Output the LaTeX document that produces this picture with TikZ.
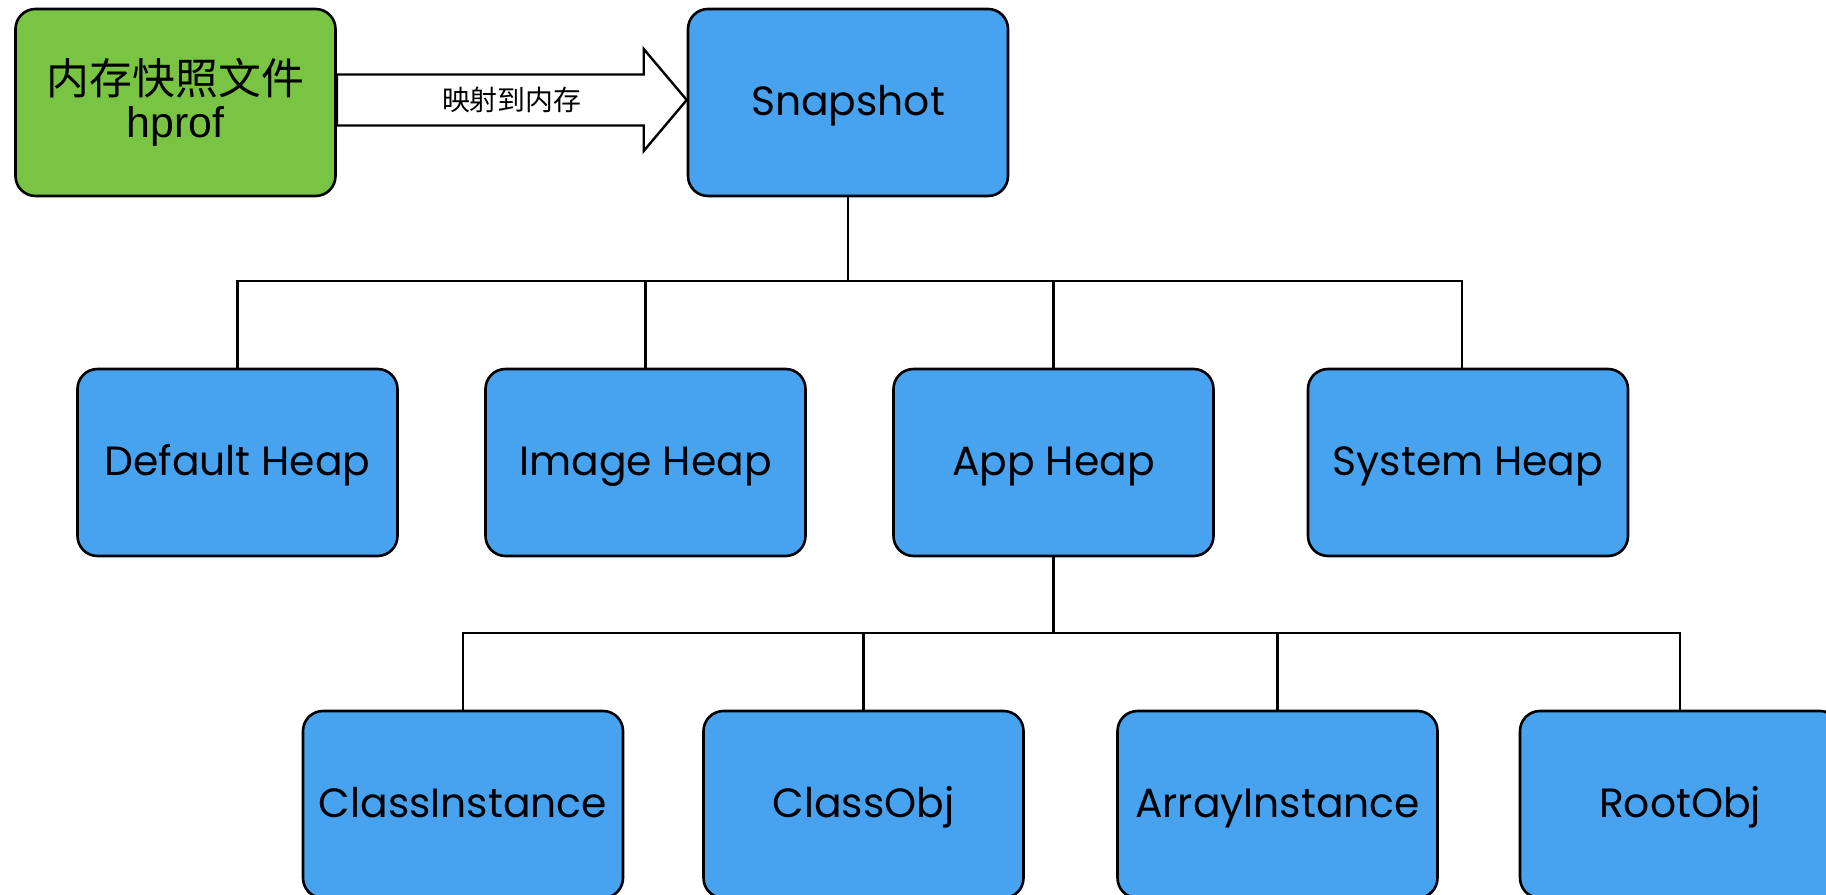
\documentclass[tikz,border=0pt]{standalone}
\usepackage{fontspec}
\setmainfont{Poppins}
\newfontfamily\cjk{Noto Sans CJK SC}
\newfontfamily\arialfont{Liberation Sans}
\definecolor{heapblue}{HTML}{47A2F0}
\definecolor{filegreen}{HTML}{7AC443}
\tikzset{
  basebox/.style={draw=black,line width=2.6bp,rounded corners=20bp,
    minimum width=320bp,minimum height=187bp,inner sep=0pt},
  heapbox/.style={basebox,fill=heapblue,text height=34bp,text depth=8bp,
    font=\fontsize{41}{46}\selectfont},
  filebox/.style={basebox,fill=filegreen,align=center,font=\fontsize{43}{43}\selectfont},
  link/.style={draw=black,line width=2.6bp},
}
\begin{document}
\begin{tikzpicture}[line join=miter]
\useasboundingbox (0bp,0bp) rectangle (1826bp,895bp);
\clip (0bp,0bp) rectangle (1826bp,895bp);
%%
\node (node_hprof) at (175.5bp,792.5bp) [filebox] {\cjk 内存快照文件\\{\arialfont hprof}};
  \node (node_snapshot) at (848.0bp,792.5bp) [heapbox] {Snapshot};
  \node (node_default) at (237.5bp,432.5bp) [heapbox] {Default Heap};
  \node (node_image) at (645.5bp,432.5bp) [heapbox] {Image Heap};
  \node (node_app) at (1053.5bp,432.5bp) [heapbox] {App Heap};
  \node (node_system) at (1468.0bp,432.5bp) [heapbox] {System Heap};
  \node (node_classinst) at (463.0bp,90.5bp) [heapbox] {ClassInstance};
  \node (node_classobj) at (863.5bp,90.5bp) [heapbox] {ClassObj};
  \node (node_arrayinst) at (1277.5bp,90.5bp) [heapbox] {ArrayInstance};
  \node (node_rootobj) at (1680.0bp,90.5bp) [heapbox] {RootObj};
%
\draw [black,fill=white,line width=2.4bp] ([yshift=2.5bp,yshift=25.5bp]node_hprof.east)
  -- ([xshift=-43bp,yshift=2.5bp,yshift=25.5bp]node_snapshot.west)
  -- ([xshift=-43bp,yshift=2.5bp,yshift=51bp]node_snapshot.west)
  -- ([yshift=2.5bp]node_snapshot.west)
  -- ([xshift=-43bp,yshift=2.5bp,yshift=-51bp]node_snapshot.west)
  -- ([xshift=-43bp,yshift=2.5bp,yshift=-25.5bp]node_snapshot.west)
  -- ([yshift=2.5bp,yshift=-25.5bp]node_hprof.east) -- cycle;
\path ([yshift=2.5bp]node_hprof.east) -- ([yshift=2.5bp]node_snapshot.west)
  node [midway] (node_map) {\cjk\fontsize{28}{30}\selectfont 映射到内存};
%
\coordinate (bus_top) at (848.0bp,614.0bp);
\coordinate (bus_app) at (1053.5bp,262.0bp);
\draw [link] (node_snapshot.south) -- (bus_top);
\foreach \n in {node_default,node_image,node_app}
  \draw [link] (bus_top) -| (\n.north);
\draw [link] (bus_top) -| ([xshift=-6bp]node_system.north);
\draw [link] (node_app.south) -- (bus_app);
\foreach \n in {node_classinst,node_classobj,node_arrayinst,node_rootobj}
  \draw [link] (bus_app) -| (\n.north);
%
\end{tikzpicture}
\end{document}
